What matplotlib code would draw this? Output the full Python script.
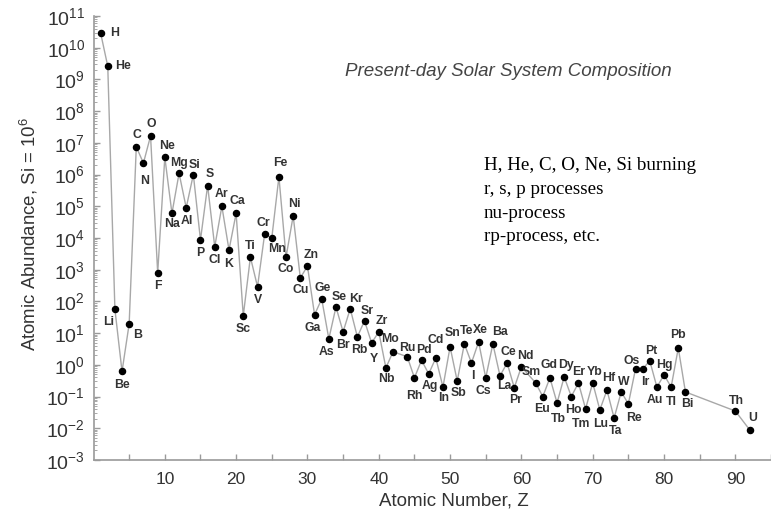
import math
import matplotlib
matplotlib.use("Agg")
import matplotlib.pyplot as plt
from matplotlib.ticker import LogLocator, FixedLocator, NullFormatter, FuncFormatter

# ---------------- data ----------------
elements = ["H", "He", "Li", "Be", "B", "C", "N", "O", "F", "Ne",
            "Na", "Mg", "Al", "Si", "P", "S", "Cl", "Ar", "K", "Ca",
            "Sc", "Ti", "V", "Cr", "Mn", "Fe", "Co", "Ni", "Cu", "Zn",
            "Ga", "Ge", "As", "Se", "Br", "Kr", "Rb", "Sr", "Y", "Zr",
            "Nb", "Mo", "Ru", "Rh", "Pd", "Ag", "Cd", "In", "Sn", "Sb",
            "Te", "I", "Xe", "Cs", "Ba", "La", "Ce", "Pr", "Nd", "Sm",
            "Eu", "Gd", "Tb", "Dy", "Ho", "Er", "Tm", "Yb", "Lu", "Hf",
            "Ta", "W", "Re", "Os", "Ir", "Pt", "Au", "Hg", "Tl", "Pb",
            "Bi", "Th", "U"]
z_numbers = [1, 2, 3, 4, 5, 6, 7, 8, 9, 10,
             11, 12, 13, 14, 15, 16, 17, 18, 19, 20,
             21, 22, 23, 24, 25, 26, 27, 28, 29, 30,
             31, 32, 33, 34, 35, 36, 37, 38, 39, 40,
             41, 42, 44, 45, 46, 47, 48, 49, 50, 51,
             52, 53, 54, 55, 56, 57, 58, 59, 60, 62,
             63, 64, 65, 66, 67, 68, 69, 70, 71, 72,
             73, 74, 75, 76, 77, 78, 79, 80, 81, 82,
             83, 90, 92]
abundance = [2.9e10, 2.6e9, 57, 0.62, 19.5, 7.5e6, 2.3e6, 1.65e7, 800, 3.5e6,
             6.0e4, 1.1e6, 9.0e4, 1.0e6, 8.7e3, 4.5e5, 5.3e3, 1.0e5, 4.2e3, 6.0e4,
             35, 2.5e3, 290, 1.35e4, 1.0e4, 8.5e5, 2.5e3, 5.0e4, 550, 1.3e3,
             38, 120, 6.6, 67, 11, 59, 7.6, 24.5, 4.9, 11,
             0.8, 2.6, 1.8, 0.39, 1.4, 0.52, 1.65, 0.2, 3.7, 0.31,
             4.6, 1.15, 5.3, 0.39, 4.6, 0.45, 1.15, 0.19, 0.87, 0.27,
             0.1, 0.39, 0.063, 0.42, 0.1, 0.27, 0.041, 0.27, 0.038, 0.16,
             0.021, 0.14, 0.059, 0.74, 0.74, 1.34, 0.2, 0.48, 0.2, 3.4,
             0.14, 0.035, 0.009]

title_text = "Present-day Solar System Composition"
note_lines = ["H, He, C, O, Ne, Si burning", "r, s, p processes",
              "nu-process", "rp-process, etc."]
x_ticklabels = ["10", "20", "30", "40", "50", "60", "70", "80", "90"]

# ---------------- label placement (pixel offsets from dot) ----------------
offsets = {
    "H": (14, 0), "He": (15, 0), "Li": (-6, -13), "Be": (0, -14), "B": (8, -11),
    "C": (1, 12), "N": (1, -18), "O": (1, 12), "F": (0, -13), "Ne": (2, 11),
    "Na": (0, -11), "Mg": (0, 10), "Al": (1, -13), "Si": (1, 10), "P": (0, -13),
    "S": (2, 12), "Cl": (0, -13), "Ar": (0, 12), "K": (0, -14), "Ca": (1, 12),
    "Sc": (0, -13), "Ti": (0, 11), "V": (0, -13), "Cr": (-1, 11), "Mn": (5, -11),
    "Fe": (1, 14), "Co": (0, -12), "Ni": (1, 12), "Cu": (0, -12), "Zn": (4, 11),
    "Ga": (-2, -13), "Ge": (1, 11), "As": (-2, -13), "Se": (3, 10), "Br": (0, -13),
    "Kr": (6, 10), "Rb": (2, -13), "Sr": (3, 10), "Y": (2, -16), "Zr": (3, 11),
    "Nb": (0, -11), "Mo": (-3, 13), "Ru": (0, 9), "Rh": (0, -18), "Pd": (2, 10),
    "Ag": (1, -12), "Cd": (0, 18), "In": (1, -11), "Sn": (2, 14), "Sb": (1, -12),
    "Te": (2, 13), "I": (1, -13), "Xe": (2, 12), "Cs": (-2, -13), "Ba": (7, 12),
    "La": (4, -10), "Ce": (1, 11), "Pr": (1, -12), "Nd": (4, 11), "Sm": (-4, 11),
    "Eu": (-1, -12), "Gd": (-1, 13), "Tb": (1, -16), "Dy": (2, 12), "Ho": (2, -13),
    "Er": (0, 11), "Tm": (-5, -15), "Yb": (2, 11), "Lu": (1, -14), "Hf": (2, 12),
    "Ta": (2, -13), "W": (3, 10), "Re": (6, -14), "Os": (-4, 8), "Ir": (3, -13),
    "Pt": (1, 10), "Au": (-2, -13), "Hg": (0, 10), "Tl": (0, -15), "Pb": (0, 13),
    "Bi": (2, -12), "Th": (1, 10), "U": (3, 12),
}

# ---------------- figure ----------------
plt.rcParams['font.family'] = ['Liberation Sans', 'DejaVu Sans']
plt.rcParams['mathtext.default'] = 'regular'

W, H = 771, 518
fig = plt.figure(figsize=(W / 100, H / 100), dpi=100)
ax = fig.add_axes([93.5 / W, 58 / H, (W - 93.5) / W, 444 / H])

ax.plot(z_numbers, abundance, color='#a8a8a8', lw=1.0, zorder=2)
ax.plot(z_numbers, abundance, 'o', color='black', ms=4.4, zorder=3)

for el, z, v in zip(elements, z_numbers, abundance):
    dx, dy = offsets.get(el, (0, 10))
    ax.annotate(el, (z, v), xytext=(dx, dy), textcoords='offset pixels',
                ha='center', va='center', fontsize=8.8, fontweight='bold',
                color='#333333', zorder=4)

ax.set_yscale('log')
ax.set_ylim(1e-3, 1e11)
ax.set_xlim(0, 95)

ax.yaxis.set_major_locator(LogLocator(base=10, numticks=20))
ax.yaxis.set_minor_locator(LogLocator(base=10, subs=range(2, 10), numticks=20))
ax.yaxis.set_minor_formatter(NullFormatter())
ax.yaxis.set_major_formatter(FuncFormatter(lambda v, p: r"$10^{%d}$" % round(math.log10(v))))

ax.xaxis.set_major_locator(FixedLocator([10 * (i + 1) for i in range(len(x_ticklabels))]))
ax.set_xticklabels(x_ticklabels)
ax.xaxis.set_minor_locator(FixedLocator([5 + 10 * i for i in range(10)]))

for s in ['top', 'right']:
    ax.spines[s].set_visible(False)
for s in ['left', 'bottom']:
    ax.spines[s].set_color('#9a9a9a')
    ax.spines[s].set_linewidth(1.2)

ax.tick_params(axis='both', which='both', direction='in', color='#9a9a9a')
ax.tick_params(axis='x', which='both', length=4, width=1)
ax.tick_params(axis='y', which='major', length=4, width=1)
ax.tick_params(axis='y', which='minor', length=2, width=0.6)
ax.tick_params(axis='y', which='major', labelsize=14, labelcolor='#333333', pad=6)
ax.tick_params(axis='x', which='major', labelsize=12.5, labelcolor='#333333', pad=9)

ax.set_xlabel("Atomic Number, Z", fontsize=13.5, color='#333333', va='top')
ax.xaxis.set_label_coords(0.532, -0.074)
ax.set_ylabel(r"Atomic Abundance, Si = 10$^{6}$", fontsize=13.4, color='#333333')
ax.yaxis.set_label_coords(-0.079, 0.51)

fig.text(508 / W, 1 - 72 / H, title_text, fontsize=13.5, style='italic',
         color='#444444', ha='center', va='center')

for i, line in enumerate(note_lines):
    fig.text(484 / W, 1 - (166 + 23.5 * i) / H, line, fontsize=13.7,
             family=['Liberation Serif', 'DejaVu Serif'], color='black',
             ha='left', va='center')

fig.savefig("out.png", dpi=100)
